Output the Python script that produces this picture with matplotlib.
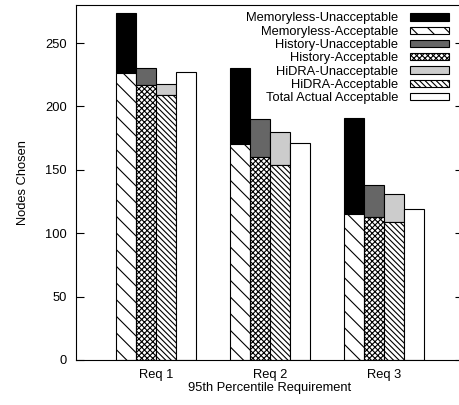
import numpy as np
import matplotlib
matplotlib.use('Agg')
import matplotlib.pyplot as plt

plt.rcParams['font.family'] = ['Liberation Sans', 'DejaVu Sans']
plt.rcParams['hatch.linewidth'] = 0.8

# data
requirements = ['Req 1', 'Req 2', 'Req 3']
memoryless_acc = [226, 170, 115]
memoryless_unacc = [48, 60, 76]
history_acc = [217, 160, 113]
history_unacc = [13, 30, 25]
hidra_acc = [209, 154, 109]
hidra_unacc = [9, 26, 22]
total_actual = [227, 171, 119]

fs = 9.3
fig = plt.figure(figsize=(4.6, 4.05), dpi=100)
ax = fig.add_axes([76 / 460, 45 / 405, 387 / 460, 355 / 405])

x = np.arange(len(requirements))
w = 20 / 114
ekw = dict(edgecolor='black', linewidth=0.8)

ax.bar(x - 1.5 * w, memoryless_unacc, w, bottom=memoryless_acc, color='black',
       label='Memoryless-Unacceptable', **ekw)
ax.bar(x - 1.5 * w, memoryless_acc, w, color='white', hatch='\\\\',
       label='Memoryless-Acceptable', **ekw)
ax.bar(x - 0.5 * w, history_unacc, w, bottom=history_acc, color='#666666',
       label='History-Unacceptable', **ekw)
ax.bar(x - 0.5 * w, history_acc, w, color='white', hatch='xxxxxx',
       label='History-Acceptable', **ekw)
ax.bar(x + 0.5 * w, hidra_unacc, w, bottom=hidra_acc, color='#cccccc',
       label='HiDRA-Unacceptable', **ekw)
ax.bar(x + 0.5 * w, hidra_acc, w, color='white', hatch='\\\\\\\\\\\\',
       label='HiDRA-Acceptable', **ekw)
ax.bar(x + 1.5 * w, total_actual, w, color='white',
       label='Total Actual Acceptable', **ekw)

ax.set_xlim(-80 / 114, 307 / 114)
ax.set_ylim(0, 280)
ax.set_xticks(x)
ax.set_xticklabels(requirements)
ax.set_yticks([0, 50, 100, 150, 200, 250])
ax.tick_params(axis='x', length=0, pad=6.5, labelsize=fs)
ax.tick_params(axis='y', direction='in', length=6, width=0.8, pad=6.5,
               labelsize=fs, right=True)
for s in ax.spines.values():
    s.set_linewidth(0.8)

ax.set_xlabel('95th Percentile Requirement', fontsize=fs, labelpad=0.5)
ax.set_ylabel('Nodes Chosen', fontsize=fs, labelpad=12)

leg = ax.legend(loc='upper right', bbox_to_anchor=(449 / 460, 1 - 12.5 / 405),
                bbox_transform=fig.transFigure, frameon=False, fontsize=fs,
                markerfirst=False, borderpad=0, borderaxespad=0,
                handlelength=3.05, handleheight=0.5, handletextpad=0.86,
                labelspacing=0.1)

fig.savefig('out.png', dpi=100)
